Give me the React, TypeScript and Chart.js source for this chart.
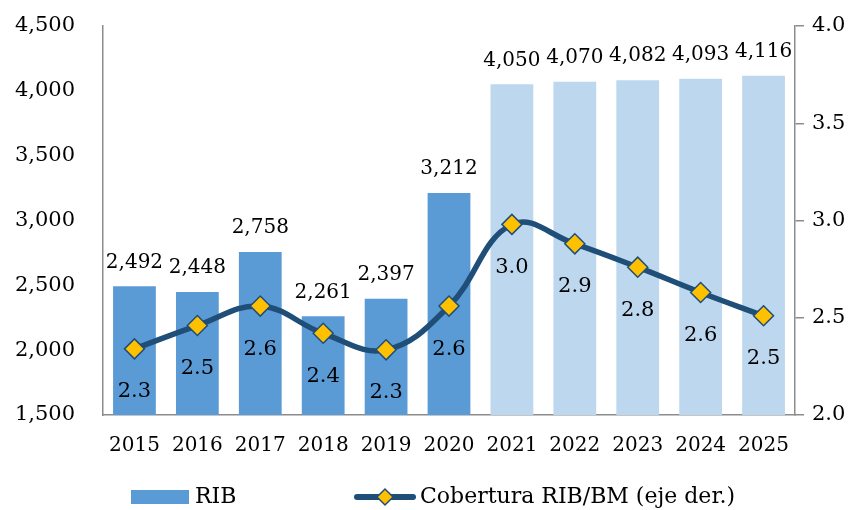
import React, { useEffect, useRef } from "react";
import { Chart, registerables } from "chart.js";

Chart.register(...registerables);

const years = ["2015", "2016", "2017", "2018", "2019", "2020", "2021", "2022", "2023", "2024", "2025"];
const ribValues = [2492, 2448, 2758, 2261, 2397, 3212, 4050, 4070, 4082, 4093, 4116];
const coberturaValues = [2.34, 2.46, 2.56, 2.42, 2.335, 2.56, 2.98, 2.88, 2.76, 2.63, 2.51];
const projectedFrom = 6; // index from which bars are light (projections)

const leftTicks = { min: 1500, max: 4500, step: 500 };
const rightTicks = { min: 2.0, max: 4.0, step: 0.5 };

const FONT = "'DejaVu Serif', serif";
const FS = 21;
const DARK_BAR = "#5B9BD5";
const LIGHT_BAR = "#BDD7EE";
const LINE = "#1F4E79";
const MARKER = "#FFC000";
const AXIS = "#8c8c8c";

const labelsPlugin = {
  id: "customLabels",
  afterDatasetsDraw(chart: any) {
    const ctx = chart.ctx;
    ctx.save();
    ctx.fillStyle = "#000";
    ctx.textAlign = "center";
    ctx.textBaseline = "middle";
    ctx.font = `20px ${FONT}`;
    const barMeta = chart.getDatasetMeta(1);
    barMeta.data.forEach((el: any, i: number) => {
      ctx.fillText(ribValues[i].toLocaleString("en-US"), el.x, el.y - 24);
    });
    ctx.font = `${FS}px ${FONT}`;
    const lineMeta = chart.getDatasetMeta(0);
    lineMeta.data.forEach((el: any, i: number) => {
      ctx.fillText(coberturaValues[i].toFixed(1), el.x, el.y + 43);
    });
    ctx.restore();
  },
  afterDraw(chart: any) {
    const ctx = chart.ctx;
    ctx.save();
    const y = 497;
    ctx.fillStyle = DARK_BAR;
    ctx.fillRect(131, 490, 58, 14);
    ctx.fillStyle = "#000";
    ctx.font = `22px ${FONT}`;
    ctx.textAlign = "left";
    ctx.textBaseline = "middle";
    ctx.fillText("RIB", 195, y);
    ctx.strokeStyle = LINE;
    ctx.lineWidth = 6;
    ctx.lineCap = "round";
    ctx.beginPath();
    ctx.moveTo(357, y);
    ctx.lineTo(413, y);
    ctx.stroke();
    ctx.beginPath();
    ctx.moveTo(385 - 8, y);
    ctx.lineTo(385, y - 8);
    ctx.lineTo(385 + 8, y);
    ctx.lineTo(385, y + 8);
    ctx.closePath();
    ctx.fillStyle = MARKER;
    ctx.fill();
    ctx.lineWidth = 1.5;
    ctx.stroke();
    ctx.fillStyle = "#000";
    ctx.fillText("Cobertura RIB/BM (eje der.)", 420, y);
    ctx.restore();
  },
};

export default function App() {
  const ref = useRef<HTMLCanvasElement>(null);
  useEffect(() => {
    if (!ref.current) return;
    const chart = new Chart(ref.current, {
      type: "bar",
      data: {
        labels: years,
        datasets: [
          {
            type: "line",
            label: "Cobertura RIB/BM (eje der.)",
            data: coberturaValues,
            yAxisID: "y1",
            borderColor: LINE,
            borderWidth: 5.5,
            tension: 0.4,
            pointStyle: "rectRot",
            pointRadius: 10,
            pointHoverRadius: 10,
            pointBackgroundColor: MARKER,
            pointBorderColor: LINE,
            pointBorderWidth: 1.5,
            order: 0,
          } as any,
          {
            type: "bar",
            label: "RIB",
            data: ribValues,
            yAxisID: "y",
            backgroundColor: ribValues.map((_, i) => (i < projectedFrom ? DARK_BAR : LIGHT_BAR)),
            barPercentage: 0.68,
            categoryPercentage: 1,
            order: 1,
          },
        ],
      },
      options: {
        responsive: false,
        animation: false,
        layout: { padding: { top: 26, left: 0, right: 0, bottom: 50 } },
        plugins: { legend: { display: false }, tooltip: { enabled: false } },
        scales: {
          x: {
            grid: { display: false, drawTicks: false },
            border: { display: true, color: AXIS, width: 1.5 },
            ticks: { color: "#000", font: { family: FONT, size: 20 }, padding: 19, maxRotation: 0 },
            afterFit: (s: any) => { s.height = 45; },
          },
          y: {
            position: "left",
            min: leftTicks.min,
            max: leftTicks.max,
            grid: { display: true, drawOnChartArea: false, drawTicks: true, tickLength: 24, color: "rgba(0,0,0,0)" },
            border: { display: true, color: AXIS, width: 1.5 },
            ticks: {
              stepSize: leftTicks.step,
              color: "#000",
              font: { family: FONT, size: FS },
              padding: 4,
              callback: (v: any) => Number(v).toLocaleString("en-US"),
            },
            afterFit: (s: any) => { s.width = 103; },
          },
          y1: {
            position: "right",
            min: rightTicks.min,
            max: rightTicks.max,
            grid: { display: true, drawOnChartArea: false, drawTicks: true, tickLength: 9, color: AXIS, lineWidth: 1.5 },
            border: { display: true, color: AXIS, width: 1.5 },
            ticks: {
              stepSize: rightTicks.step,
              color: "#000",
              font: { family: FONT, size: FS },
              padding: 8,
              callback: (v: any) => Number(v).toFixed(1),
            },
            afterFit: (s: any) => { s.width = 59; },
          },
        },
      },
      plugins: [labelsPlugin],
    });
    return () => chart.destroy();
  }, []);
  return (
    <div style={{ position: "absolute", left: 0, top: 0, width: 854, height: 510, background: "#fff" }}>
      <canvas ref={ref} width={854} height={510} style={{ width: 854, height: 510 }} />
    </div>
  );
}
